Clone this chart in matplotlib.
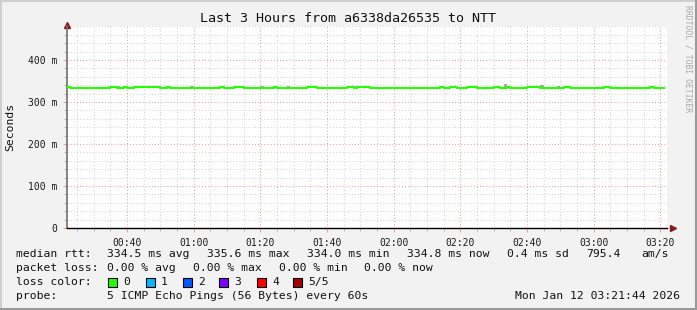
import matplotlib
matplotlib.use('Agg')
import matplotlib.pyplot as plt
import matplotlib.dates as mdates
from matplotlib.lines import Line2D
from matplotlib.patches import Rectangle
import pandas as pd

DAY = '2026-01-12 '
start_time = '00:22:00'
end_time = '03:22:00'

# median rtt (ms), step changes
median_times = ['00:22', '00:23', '00:35', '00:37', '00:39', '00:40', '00:42',
                '00:50', '00:52', '00:53', '01:08', '01:09', '01:12', '01:15',
                '01:24', '01:25', '01:34', '01:37', '01:46', '01:48', '01:49',
                '01:53', '02:14', '02:15', '02:17', '02:19', '02:22', '02:25',
                '02:30', '02:32', '02:34', '02:35', '02:40', '02:44', '02:51',
                '02:53', '03:03', '03:05', '03:17', '03:18', '03:21']
median_ms = [336.5, 334.0, 336.5, 334.0, 336.5, 334.0, 336.5,
             334.0, 336.5, 334.0, 336.5, 334.0, 336.5, 334.0,
             336.5, 334.0, 336.5, 334.0, 336.5, 334.0, 336.5,
             334.0, 336.5, 334.0, 336.5, 334.0, 336.5, 334.0,
             336.5, 334.0, 336.5, 334.0, 336.5, 334.0, 336.5,
             334.0, 336.5, 334.0, 336.5, 334.0, 334.0]

# smoke (spread of the pings), only where it shows above the median
smoke_times = ['00:37', '00:59', '01:20', '01:28', '02:33', '02:44', '02:49']
smoke_lo = [335.0, 336.0, 336.0, 336.0, 335.0, 336.0, 336.0]
smoke_hi = [338.0, 338.0, 338.0, 338.5, 343.0, 340.0, 338.0]

ytick_values = [0, 100, 200, 300, 400]
ytick_labels = ['0', '100 m', '200 m', '300 m', '400 m']
xtick_labels = ['00:40', '01:00', '01:20', '01:40', '02:00', '02:20', '02:40', '03:00', '03:20']

loss_labels = ['0', '1', '2', '3', '4', '5/5']
loss_colors = ['#26ff00', '#00b8ff', '#0059ff', '#7e00ff', '#ff0000', '#a10000']

W, H = 697, 310
MONO = 'DejaVu Sans Mono'
BG = '#f2f2f2'


def to_dt(values):
    return pd.to_datetime([DAY + v for v in values], format='mixed')


def fx(px):
    return px / W


def fy(py):
    return 1 - py / H


fig = plt.figure(figsize=(W / 100, H / 100), dpi=100, facecolor=BG)
ax = fig.add_axes([fx(67), fy(228), (667 - 67) / W, (228 - 26.4) / H])
ax.set_facecolor('white')

# smoke then the median line
sm_t = to_dt(smoke_times)
ax.bar(sm_t, [h - l for h, l in zip(smoke_hi, smoke_lo)], bottom=smoke_lo,
       width=1 / 1440, align='edge', color='#a8a8a8', linewidth=0, zorder=3)
ax.step(to_dt(median_times), median_ms, where='post', color='#26ff00', lw=1.5, zorder=4)

ax.set_xlim(pd.Timestamp(DAY + start_time), pd.Timestamp(DAY + end_time))
ax.set_ylim(0, 480)

# grid
ax.set_yticks(ytick_values)
ax.set_yticklabels(ytick_labels)
ax.set_yticks(range(0, 481, 20), minor=True)
ax.set_xticks(to_dt(xtick_labels))
ax.set_xticklabels(xtick_labels)
ax.xaxis.set_minor_locator(mdates.MinuteLocator(byminute=range(0, 60, 5)))

ax.grid(which='minor', color='#d4d4d4', linestyle=(0, (1, 2)), lw=0.75, zorder=1)
ax.grid(which='major', color='#f4a0a0', linestyle=(0, (1, 2)), lw=0.75, zorder=2)
ax.set_axisbelow(True)

ax.tick_params(which='both', direction='out', labelsize=7, colors='#1a1a1a')
ax.tick_params(which='major', length=3, color='#f4a0a0')
ax.tick_params(which='minor', length=2, color='#b0b0b0')
ax.tick_params(axis='x', pad=4)
ax.tick_params(axis='y', pad=4)
for lbl in ax.get_xticklabels() + ax.get_yticklabels():
    lbl.set_family(MONO)

for side in ['top', 'right']:
    ax.spines[side].set_visible(False)
ax.spines['left'].set_color('#707070')
ax.spines['bottom'].set_color('black')
ax.spines['left'].set_linewidth(1.2)
ax.spines['bottom'].set_linewidth(1.0)
ax.plot([0], [1.005], marker='^', color='#8b1a1a', ms=4, transform=ax.transAxes, clip_on=False)
ax.plot([1.01], [0], marker='>', color='#8b1a1a', ms=4, transform=ax.transAxes, clip_on=False)

# y axis title
fig.text(fx(10), fy(127), 'Seconds', family=MONO, fontsize=8.2, rotation=90,
         ha='center', va='center', color='#111111')

# title and watermark
fig.text(fx(348), fy(19), 'Last 3 Hours from a6338da26535 to NTT',
         family=MONO, fontsize=9.6, ha='center', va='center', color='#111111')
fig.text(fx(688), fy(5), 'RRDTOOL / TOBI OETIKER', family=MONO, fontsize=5.8,
         rotation=270, ha='center', va='top', color='#a8a8a8')

# legend lines
legend_rows = [
    (254, [(16, 'median rtt:'), (107, '334.5 ms avg'), (207, '335.6 ms max'),
           (307, '334.0 ms min'), (407, '334.8 ms now'), (507, '0.4 ms sd'),
           (586, '795.4'), (641, 'am/s')]),
    (268, [(16, 'packet loss:'), (107, '0.00 % avg'), (193, '0.00 % max'),
           (279, '0.00 % min'), (364, '0.00 % now')]),
    (282, [(16, 'loss color:')]),
    (296, [(16, 'probe:'), (107, '5 ICMP Echo Pings (56 Bytes) every 60s')]),
]
for py, items in legend_rows:
    for px, txt in items:
        fig.text(fx(px), fy(py), txt, family=MONO, fontsize=8.2, va='center', color='#111111')
fig.text(fx(680), fy(296), 'Mon Jan 12 03:21:44 2026', family=MONO, fontsize=8.2,
         va='center', ha='right', color='#111111')

box_x = [108, 146, 183, 219, 257, 293]
for bx, lab, col in zip(box_x, loss_labels, loss_colors):
    fig.add_artist(Rectangle((fx(bx), fy(287)), 9 / W, 9 / H, transform=fig.transFigure,
                             facecolor=col, edgecolor='black', lw=0.8))
    fig.text(fx(bx + 15), fy(282), lab, family=MONO, fontsize=8.2, va='center', color='#111111')

# 3d frame around the canvas
fig.add_artist(Line2D([0, 1], [fy(1), fy(1)], transform=fig.transFigure, color='#cfcfcf', lw=1.5))
fig.add_artist(Line2D([fx(1), fx(1)], [0, 1], transform=fig.transFigure, color='#cfcfcf', lw=1.5))
fig.add_artist(Line2D([0, 1], [fy(309), fy(309)], transform=fig.transFigure, color='#9a9a9a', lw=1.5))
fig.add_artist(Line2D([fx(696), fx(696)], [0, 1], transform=fig.transFigure, color='#9a9a9a', lw=1.5))

fig.savefig('out.png', dpi=100, facecolor=BG)
